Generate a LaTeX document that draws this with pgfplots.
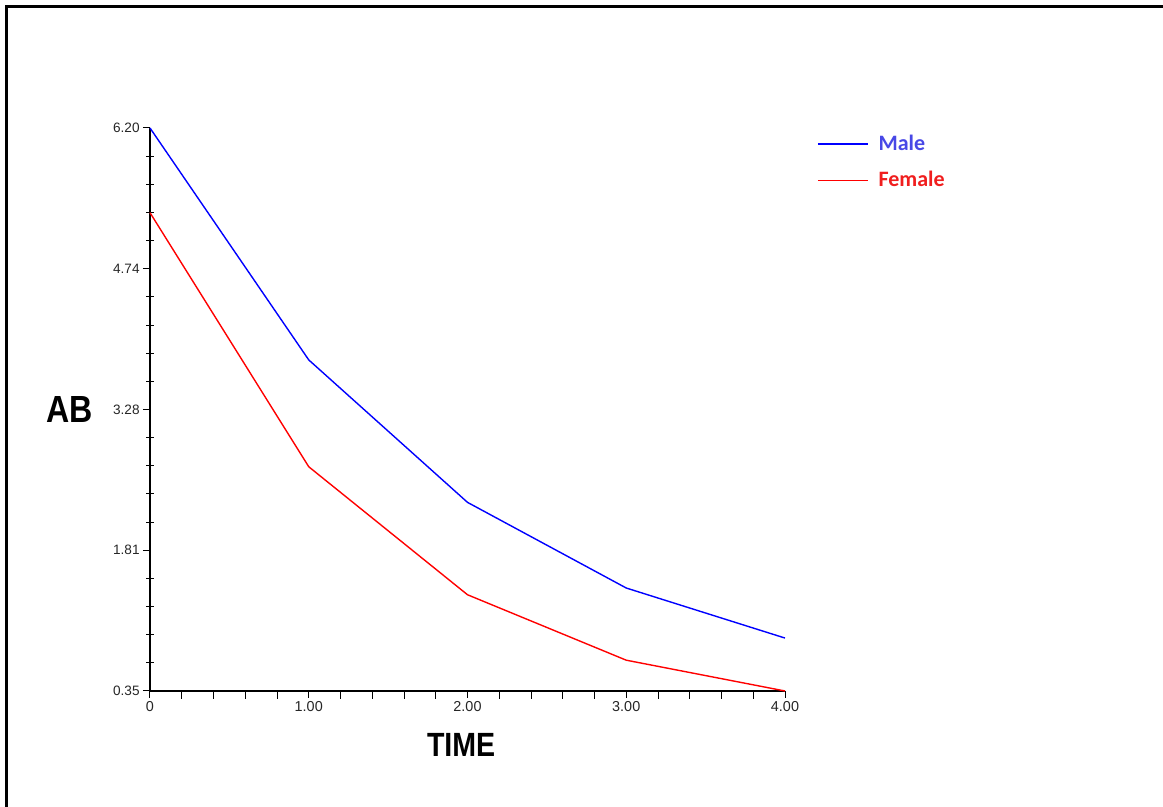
\documentclass[border=0pt]{standalone}
\usepackage{fontspec}
\setmainfont{Liberation Sans}
\newfontfamily\legfont{Carlito}
\usepackage{graphicx}
\usepackage{pgfplots}
\pgfplotsset{compat=1.18}
\definecolor{maleblue}{RGB}{0,0,255}
\definecolor{femred}{RGB}{255,0,0}
\definecolor{maletxt}{RGB}{72,72,230}
\definecolor{femtxt}{RGB}{240,30,30}
\pgfplotstableread{
x y
0 6.20
1 3.79
2 2.31
3 1.42
4 0.90
}\maletable
\pgfplotstableread{
x y
0 5.32
1 2.68
2 1.35
3 0.67
4 0.35
}\femaletable
\begin{document}
\begin{tikzpicture}
\path[use as bounding box] (0,0) rectangle (581.5pt,403.5pt);
\draw[line width=1.2pt,black] (3.25pt,0pt) -- (3.25pt,400.25pt) -- (581.5pt,400.25pt);
\begin{axis}[
  at={(75pt,58pt)}, anchor=south west,
  scale only axis, width=317.5pt, height=281.5pt,
  xmin=0, xmax=4, ymin=0.35, ymax=6.20,
  axis x line=bottom, axis y line=left,
  axis line style={-, line width=0.8pt, black},
  xtick={0,1,2,3,4},
  xticklabels={0,1.00,2.00,3.00,4.00},
  ytick={0.35,1.8125,3.275,4.7375,6.20},
  yticklabels={0.35,1.81,3.28,4.74,6.20},
  minor x tick num=4, minor y tick num=4,
  tick align=outside,
  major tick length=3.5pt, minor tick length=4pt,
  every tick/.style={black, line width=0.5pt},
  minor y tick style={xshift=2.2pt},
  /pgf/number format/assume math mode=true,
  xticklabel style={font=\fontsize{7.2}{8}\selectfont, color=black!85, inner sep=1.5pt},
  yticklabel style={font=\fontsize{6.8}{8}\selectfont, color=black!85, inner sep=1.5pt},
  xlabel={\scalebox{0.85}[1]{\textbf{TIME}}},
  xlabel style={font=\fontsize{16.8}{18}\selectfont, at={(axis description cs:0.49,-0.096)}, anchor=center},
  ylabel={\scalebox{0.85}[1]{\textbf{AB}}},
  ylabel style={font=\fontsize{18.9}{20}\selectfont, rotate=-90, at={(axis description cs:-0.126,0.5)}, anchor=center},
  legend style={draw=none, fill=none, at={(axis description cs:1.05,0.992)}, anchor=north west,
    font=\legfont\bfseries\fontsize{11}{13}\selectfont, inner sep=0pt, row sep=7pt,
    nodes={inner sep=1pt}},
  legend cell align=left,
  legend image code/.code={\draw[#1] (0pt,0pt) -- (25pt,0pt); \path (29pt,0pt);},
  clip=false,
]
\addplot[maleblue, line width=0.7pt] table[x=x,y=y] {\maletable};
\addlegendentry{\textcolor{maletxt}{Male}}
\addplot[femred, line width=0.7pt] table[x=x,y=y] {\femaletable};
\addlegendentry{\textcolor{femtxt}{Female}}
\end{axis}
\end{tikzpicture}
\end{document}
